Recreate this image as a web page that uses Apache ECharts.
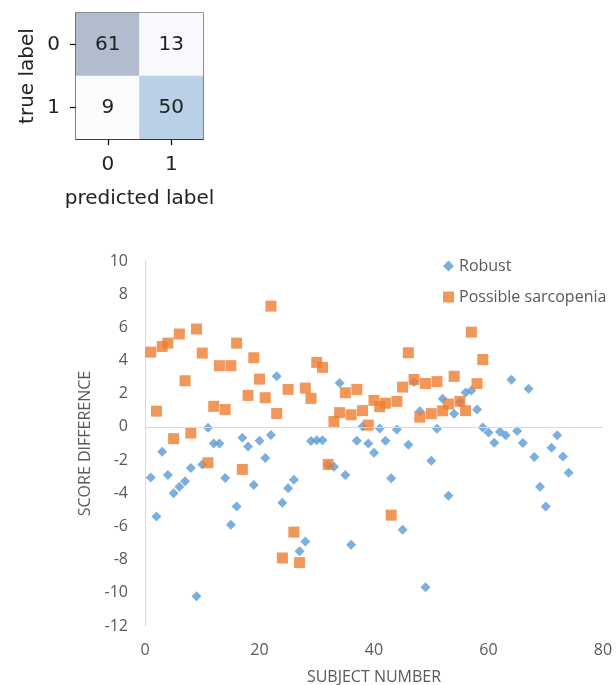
<!DOCTYPE html>
<html><head><meta charset="utf-8">
<script src="https://cdn.jsdelivr.net/npm/echarts@6/dist/echarts.min.js"></script>
<style>html,body{margin:0;padding:0;background:#fff}#c{width:616px;height:685px}</style>
</head><body><div id="c"></div>
<script>
// Confusion matrix
const cmLabels = ['0', '1'];
const cmValues = [[61, 13], [9, 50]];
const cmColors = [['#b1bdcf', '#f7f9fd'], ['#fafcfe', '#b9d0e6']];

// Scatter: Robust
const robustSubject = [1,2,3,4,5,6,7,8,9,10,11,12,13,14,15,16,17,18,19,20,21,22,23,24,25,26,27,28,29,30,31,32,33,34,35,36,37,38,39,40,41,42,43,44,45,46,47,48,49,50,51,52,53,54,55,56,57,58,59,60,61,62,63,64,65,66,67,68,69,70,71,72,73,74];
const robustScore = [-3.05,-5.4,-1.5,-2.9,-4.0,-3.6,-3.27,-2.48,-10.2,-2.26,-0.05,-1.0,-1.0,-3.08,-5.9,-4.8,-0.65,-1.18,-3.5,-0.83,-1.88,-0.49,3.06,-4.57,-3.69,-3.18,-7.5,-6.9,-0.85,-0.81,-0.81,-2.3,-2.4,2.64,-2.9,-7.1,-0.83,0.03,-1.0,-1.55,-0.09,-0.83,-3.1,-0.15,-6.2,-1.07,2.7,0.95,-9.66,-2.04,-0.11,1.7,-4.15,0.8,1.5,2.08,2.2,1.05,-0.03,-0.33,-0.95,-0.29,-0.51,2.84,-0.25,-0.97,2.3,-1.82,-3.6,-4.8,-1.25,-0.51,-1.78,-2.76];

// Scatter: Possible sarcopenia
const sarcoSubject = [1,2,3,4,5,6,7,8,9,10,11,12,13,14,15,16,17,18,19,20,21,22,23,24,25,26,27,28,29,30,31,32,33,34,35,36,37,38,39,40,41,42,43,44,45,46,47,48,49,50,51,52,53,54,55,56,57,58,59];
const sarcoScore = [4.51,0.95,4.85,5.05,-0.71,5.6,2.78,-0.37,5.9,4.45,-2.16,1.24,3.69,1.05,3.69,5.05,-2.56,1.9,4.17,2.88,1.76,7.28,0.81,-7.9,2.26,-6.34,-8.18,2.34,1.72,3.89,3.59,-2.26,0.33,0.86,2.06,0.73,2.26,0.98,0.11,1.6,1.22,1.43,-5.32,1.54,2.4,4.47,2.86,0.59,2.62,0.8,2.73,0.97,1.38,3.05,1.54,0.98,5.71,2.61,4.06];

// Axis ticks
const xMin = 0, xMax = 80, xStep = 20;
const yMin = -12, yMax = 10, yStep = 2;

const cmData = [];
for (let i = 0; i < cmValues.length; i++) {
  for (let j = 0; j < cmValues[i].length; j++) {
    cmData.push({ value: [j, i, cmValues[i][j]], itemStyle: { color: cmColors[i][j] } });
  }
}
const robustData = robustSubject.map((s, i) => [s, robustScore[i]]);
const sarcoData = sarcoSubject.map((s, i) => [s, sarcoScore[i]]);

const mplFont = 'DejaVu Sans';
const xlFont = 'Open Sans';
const gray = '#595959';

const chart = echarts.init(document.getElementById('c'), null, { renderer: 'canvas' });
chart.setOption({
  animation: false,
  backgroundColor: '#fff',
  grid: [
    { left: 76, top: 13, width: 127, height: 126, show: true, borderColor: '#000', borderWidth: 1.2, backgroundColor: 'transparent', outerBoundsMode: 'none', containLabel: false },
    { left: 145, top: 261, right: 13, bottom: 59, outerBoundsMode: 'none', containLabel: false }
  ],
  legend: {
    orient: 'vertical', left: 438, top: 252, itemGap: 13, itemWidth: 11, itemHeight: 11,
    textStyle: { fontFamily: xlFont, fontSize: 16, color: gray, lineHeight: 18 },
    data: [{ name: 'Robust', icon: 'diamond' }, { name: 'Possible sarcopenia', icon: 'rect' }]
  },
  xAxis: [
    { type: 'category', gridIndex: 0, data: cmLabels, position: 'bottom',
      axisLine: { show: true, lineStyle: { color: '#000', width: 1.2 } },
      axisTick: { show: true, alignWithLabel: true, length: 6, lineStyle: { color: '#000', width: 1.2 } },
      axisLabel: { fontFamily: mplFont, fontSize: 20, color: '#222', margin: 16 },
      splitLine: { show: false },
      name: 'predicted label', nameLocation: 'middle', nameGap: 50,
      nameTextStyle: { fontFamily: mplFont, fontSize: 20, color: '#222' } },
    { type: 'value', gridIndex: 1, min: xMin, max: xMax, interval: xStep,
      axisLine: { show: false }, axisTick: { show: false }, splitLine: { show: false },
      axisLabel: { fontFamily: xlFont, fontSize: 16, color: gray, margin: 16 },
      name: 'SUBJECT NUMBER', nameLocation: 'middle', nameGap: 43,
      nameTextStyle: { fontFamily: xlFont, fontSize: 16, color: gray } }
  ],
  yAxis: [
    { type: 'category', gridIndex: 0, data: cmLabels, inverse: true,
      axisLine: { show: true, lineStyle: { color: '#000', width: 1.2 } },
      axisTick: { show: true, alignWithLabel: true, length: 6, lineStyle: { color: '#000', width: 1.2 } },
      axisLabel: { fontFamily: mplFont, fontSize: 20, color: '#222', margin: 16 },
      splitLine: { show: false },
      name: 'true label', nameLocation: 'middle', nameGap: 38,
      nameTextStyle: { fontFamily: mplFont, fontSize: 20, color: '#222' } },
    { type: 'value', gridIndex: 1, min: yMin, max: yMax, interval: yStep,
      axisLine: { show: true, onZero: false, lineStyle: { color: '#d9d9d9', width: 1 } },
      axisTick: { show: false }, splitLine: { show: false },
      axisLabel: { fontFamily: xlFont, fontSize: 16, color: gray, margin: 17 },
      name: 'SCORE DIFFERENCE', nameLocation: 'middle', nameGap: 46,
      nameTextStyle: { fontFamily: xlFont, fontSize: 16, color: gray } }
  ],
  series: [
    { type: 'heatmap', xAxisIndex: 0, yAxisIndex: 0, data: cmData,
      label: { show: true, formatter: p => String(p.value[2]), fontFamily: mplFont, fontSize: 20, color: '#222' },
      emphasis: { disabled: true } },
    { name: 'Robust', type: 'scatter', xAxisIndex: 1, yAxisIndex: 1, data: robustData,
      symbol: 'diamond', symbolSize: 10, itemStyle: { color: '#5b9bd5' },
      markLine: { silent: true, symbol: 'none', label: { show: false },
        lineStyle: { color: '#d9d9d9', type: 'solid', width: 1 }, data: [{ yAxis: 0 }] } },
    { name: 'Possible sarcopenia', type: 'scatter', xAxisIndex: 1, yAxisIndex: 1, data: sarcoData,
      symbol: 'rect', symbolSize: 11, itemStyle: { color: '#ed7d31' } }
  ]
});
</script></body></html>
